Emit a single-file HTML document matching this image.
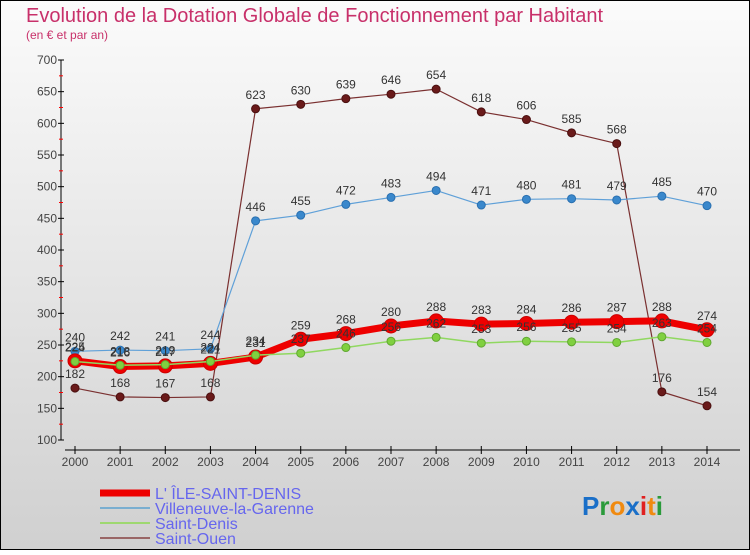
<!DOCTYPE html>
<html><head><meta charset="utf-8"><style>
body{margin:0;width:750px;height:550px;overflow:hidden;font-family:"Liberation Sans",sans-serif}
</style></head><body>
<svg id="c" width="750" height="550" xmlns="http://www.w3.org/2000/svg">
<defs><linearGradient id="bg" x1="0" y1="0" x2="0" y2="1"><stop offset="0" stop-color="#fbfbfb"/><stop offset="1" stop-color="#d0d0d0"/></linearGradient></defs>
<rect x="0.5" y="0.5" width="749" height="549" fill="url(#bg)" stroke="#000"/>
<text x="26" y="22" font-size="20" fill="#c8306a">Evolution de la Dotation Globale de Fonctionnement par Habitant</text>
<text x="26" y="39" font-size="12" fill="#c8306a">(en € et par an)</text>
<g id="axes"></g><g id="series"></g><g id="labels"></g>
<g>
<line x1="100" y1="493" x2="150" y2="493" stroke="#e00" stroke-width="7"/><text x="155" y="499" font-size="16" fill="#6666ee">L' ÎLE-SAINT-DENIS</text>
<line x1="100" y1="508" x2="150" y2="508" stroke="#7aaed0" stroke-width="2"/><text x="155" y="514" font-size="16" fill="#6666ee">Villeneuve-la-Garenne</text>
<line x1="100" y1="523" x2="150" y2="523" stroke="#9ed870" stroke-width="2"/><text x="155" y="529" font-size="16" fill="#6666ee">Saint-Denis</text>
<line x1="100" y1="538" x2="150" y2="538" stroke="#996666" stroke-width="2"/><text x="155" y="544" font-size="16" fill="#6666ee">Saint-Ouen</text>
</g>
<text x="582" y="515" font-size="26" font-weight="bold"><tspan fill="#1a6fc8">P</tspan><tspan fill="#2a9a3a">r</tspan><tspan fill="#f08a10">o</tspan><tspan fill="#1a6fc8">x</tspan><tspan fill="#e02020">i</tspan><tspan fill="#f08a10">t</tspan><tspan fill="#2a9a3a">i</tspan></text>
</svg>
<script>
const years=[2000,2001,2002,2003,2004,2005,2006,2007,2008,2009,2010,2011,2012,2013,2014];
const yTicks=[100,150,200,250,300,350,400,450,500,550,600,650,700];
const ile=[225,216,217,221,231,259,268,280,288,283,284,286,287,288,274];
const villeneuve=[240,242,241,244,446,455,472,483,494,471,480,481,479,485,470];
const saintDenis=[224,218,219,224,234,237,246,256,262,253,256,255,254,263,254];
const saintOuen=[182,168,167,168,623,630,639,646,654,618,606,585,568,176,154];
const NS="http://www.w3.org/2000/svg";
const X=i=>75+i*(707-75)/14, Y=v=>60+(700-v)*380/600;
function mk(t,a,p){const e=document.createElementNS(NS,t);for(const k in a)e.setAttribute(k,a[k]);p.appendChild(e);return e;}
const ax=document.getElementById('axes'),sg=document.getElementById('series'),lg=document.getElementById('labels');
let l=mk('line',{x1:61,y1:60,x2:61,y2:440,stroke:'#000'},ax);


l=mk('line',{x1:65,y1:450,x2:740,y2:450,stroke:'#000'},ax);


yTicks.forEach((v,i)=>{mk('line',{x1:58,y1:Y(v),x2:64,y2:Y(v),stroke:'#000'},ax);
 if(i<yTicks.length-1)mk('line',{x1:59,y1:Y(v+25),x2:63,y2:Y(v+25),stroke:'#f00'},ax);
 const t=mk('text',{x:57,y:Y(v)+4,'font-size':12,fill:'#444','text-anchor':'end'},ax);t.textContent=v;
 
 });
years.forEach((y,i)=>{mk('line',{x1:X(i),y1:446,x2:X(i),y2:454,stroke:'#000'},ax);
 const t=mk('text',{x:X(i),y:466,'font-size':12,fill:'#444','text-anchor':'middle'},ax);t.textContent=y;
 
 });
function series(d,col,w,r,fill,name,stroke){
 const p=mk('polyline',{points:d.map((v,i)=>X(i)+','+Y(v)).join(' '),fill:'none',stroke:col,'stroke-width':w,'stroke-linejoin':'round'},sg);
 
 
 d.forEach((v,i)=>{const c=mk('circle',{cx:X(i),cy:Y(v),r:r,fill:fill,stroke:stroke,'stroke-width':1},sg);
  
  
  const t=mk('text',{x:X(i),y:Y(v)-10,'font-size':12,fill:'#333','text-anchor':'middle'},lg);t.textContent=v;
  
  });
}
series(saintOuen,'#7a3030',1.2,4,'#6a1a1a','saint-ouen','#4a1010');
series(villeneuve,'#5fa0d8',1.2,4,'#3a88cc','villeneuve','#2a70b0');
series(ile,'#ee0000',7,7,'#ee0000','ile-saint-denis','#cc0000');
series(saintDenis,'#90d860',1.5,4,'#80d040','saint-denis','#60a830');
</script>
</body></html>
